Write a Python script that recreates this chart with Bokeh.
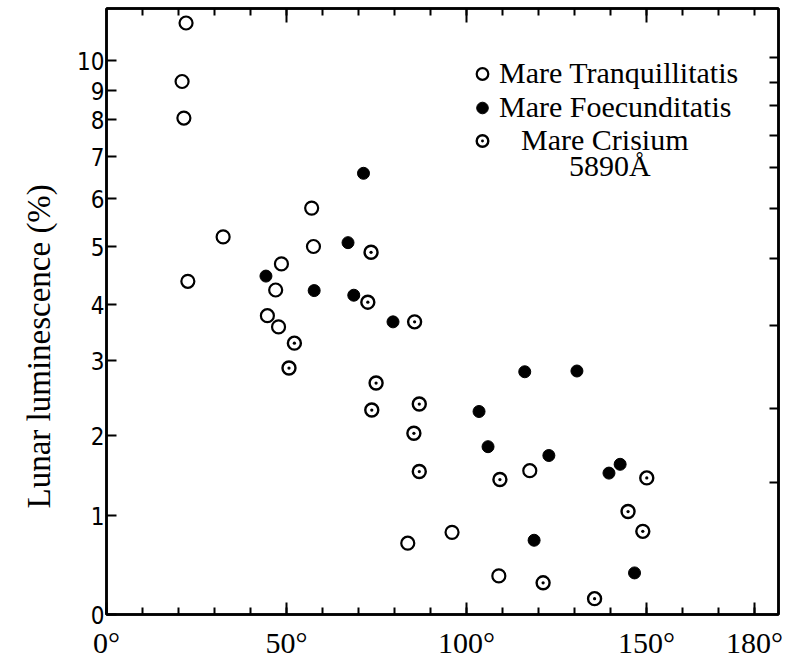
import numpy as np
from bokeh.plotting import figure
from bokeh.models import Range1d, FixedTicker, LinearAxis, Legend, LegendItem, Label, Title
from bokeh.embed import file_html
from bokeh.resources import INLINE

# ---- data (phase angle in degrees, luminescence in %) ----
TRANQ_X = [21.0, 21.5, 22.1, 22.6, 32.4, 44.7, 47.0, 47.8, 48.6, 57.0, 57.5, 83.7, 96.0, 109.0, 117.6]
TRANQ_Y = [9.3, 8.05, 11.25, 4.4, 5.2, 3.8, 4.25, 3.6, 4.7, 5.8, 5.0, 0.72, 0.83, 0.39, 1.56]

FOEC_X = [44.3, 57.7, 67.1, 68.7, 71.4, 79.6, 103.5, 106.0, 116.2, 118.8, 122.9, 130.7, 139.6, 142.7, 146.7]
FOEC_Y = [4.49, 4.24, 5.08, 4.16, 6.6, 3.69, 2.32, 1.86, 2.85, 0.75, 1.75, 2.86, 1.53, 1.64, 0.42]

CRIS_X = [50.7, 52.2, 72.6, 73.5, 73.7, 74.9, 85.4, 85.6, 86.9, 86.9, 109.3, 121.3, 135.6, 144.9, 149.0, 150.1]
CRIS_Y = [2.9, 3.31, 4.04, 4.9, 2.34, 2.7, 2.03, 3.69, 2.42, 1.55, 1.45, 0.32, 0.16, 1.05, 0.84, 1.47]

SERIES = ["Mare Tranquillitatis", "Mare Foecunditatis", "Mare Crisium"]
WAVELENGTH = "5890Å"
Y_TITLE = "Lunar luminescence (%)"

X_MAJOR = [0, 50, 100, 150, 180]
X_LABELS = ["0°", "50°", "100°", "150°", "180°"]
X_MINOR = list(range(0, 190, 10))

# non-linear luminescence axis of the original: tick values and their axis heights
Y_TICKS = [0, 1, 2, 3, 4, 5, 6, 7, 8, 9, 10]
Y_TICK_POS = [0, 99, 179, 254, 310, 368, 416, 458, 495, 524, 554]
RIGHT_TICK_POS = [132, 206, 289, 356, 406, 447, 479, 509, 532, 557]


def to_axis(v):
    v = np.asarray(v, dtype=float)
    u = np.interp(v, Y_TICKS, Y_TICK_POS)
    slope = Y_TICK_POS[-1] - Y_TICK_POS[-2]
    hi = v > Y_TICKS[-1]
    u[hi] = Y_TICK_POS[-1] + (v[hi] - Y_TICKS[-1]) * slope
    return u


SERIF = "Liberation Serif"
SANS_N = "'Liberation Sans Narrow', 'DejaVu Sans Condensed', sans-serif"

p = figure(width=789, height=665, x_range=Range1d(0, 186.7), y_range=Range1d(0, 606),
           output_backend="svg", toolbar_location=None,
           min_border_left=104, min_border_right=11, min_border_top=8, min_border_bottom=51,
           background_fill_color="white", border_fill_color="white")
p.grid.visible = False
p.outline_line_color = "black"
p.outline_line_width = 2.5

# bottom axis
xa = p.xaxis[0]
xa.ticker = FixedTicker(ticks=X_MAJOR, minor_ticks=X_MINOR)
xa.major_label_overrides = {t: l for t, l in zip(X_MAJOR, X_LABELS)}
xa.major_tick_in = 12
xa.major_tick_out = 0
xa.minor_tick_in = 7
xa.minor_tick_out = 0
xa.axis_line_width = 2.5
xa.major_tick_line_width = 2
xa.minor_tick_line_width = 2
xa.major_label_text_font = SERIF
xa.major_label_text_font_size = "30px"
xa.major_label_text_color = "black"
xa.major_label_standoff = 11

# left axis
ya = p.yaxis[0]
ya.ticker = FixedTicker(ticks=Y_TICK_POS, minor_ticks=[])
ya.major_label_overrides = {pos: str(t) for t, pos in zip(Y_TICKS, Y_TICK_POS)}
ya.major_tick_in = 10
ya.major_tick_out = 0
ya.axis_line_width = 2.5
ya.major_tick_line_width = 2
ya.major_label_text_font = SANS_N
ya.major_label_text_font_size = "24px"
ya.major_label_text_color = "black"
ya.major_label_standoff = 2

# vertical title on the left, starting a little above the frame bottom as in the original
p.add_layout(Title(text=Y_TITLE, align="left", offset=106, standoff=36,
                   text_font=SERIF, text_font_size="33px", text_font_style="normal",
                   text_color="black"), "left")

# top axis (ticks only)
top = LinearAxis(ticker=FixedTicker(ticks=[50, 100, 150], minor_ticks=list(range(10, 190, 10))),
                 major_tick_in=14, major_tick_out=0, minor_tick_in=7, minor_tick_out=0,
                 axis_line_width=2.5, major_tick_line_width=2, minor_tick_line_width=2,
                 major_label_text_color=None, major_label_text_font_size="1px",
                 major_label_standoff=0)
p.add_layout(top, "above")

# right axis (ticks only)
right = LinearAxis(ticker=FixedTicker(ticks=RIGHT_TICK_POS, minor_ticks=[]),
                   major_tick_in=9, major_tick_out=0, axis_line_width=2.5,
                   major_tick_line_width=2, major_label_text_color=None,
                   major_label_text_font_size="1px", major_label_standoff=0)
p.add_layout(right, "right")

# data marks
r_t = p.scatter(TRANQ_X, to_axis(TRANQ_Y), marker="circle", size=13,
                fill_color="white", line_color="black", line_width=2.2)
r_f = p.scatter(FOEC_X, to_axis(FOEC_Y), marker="circle", size=12,
                fill_color="black", line_color="black", line_width=1)
r_c = p.scatter(CRIS_X, to_axis(CRIS_Y), marker="circle_dot", size=13,
                fill_color="white", line_color="black", line_width=2.4)

legend_style = dict(padding=0, margin=0, spacing=0, glyph_width=30, glyph_height=29,
                    border_line_color=None, background_fill_alpha=0,
                    label_text_font=SERIF, label_text_font_size="30px",
                    label_text_color="black", label_height=29)
leg_a = Legend(items=[LegendItem(label=SERIES[0], renderers=[r_t]),
                      LegendItem(label=SERIES[1], renderers=[r_f])],
               location=(361, 490), label_standoff=2, **legend_style)
leg_b = Legend(items=[LegendItem(label=SERIES[2], renderers=[r_c])],
               location=(361, 457), label_standoff=24, **legend_style)
p.add_layout(leg_a, "center")
p.add_layout(leg_b, "center")

p.add_layout(Label(x=128.5, y=449, text=WAVELENGTH, text_font=SERIF, text_font_size="30px",
                   text_color="black", text_align="left", text_baseline="alphabetic"))

open("out.html", "w").write(file_html(p, INLINE))
